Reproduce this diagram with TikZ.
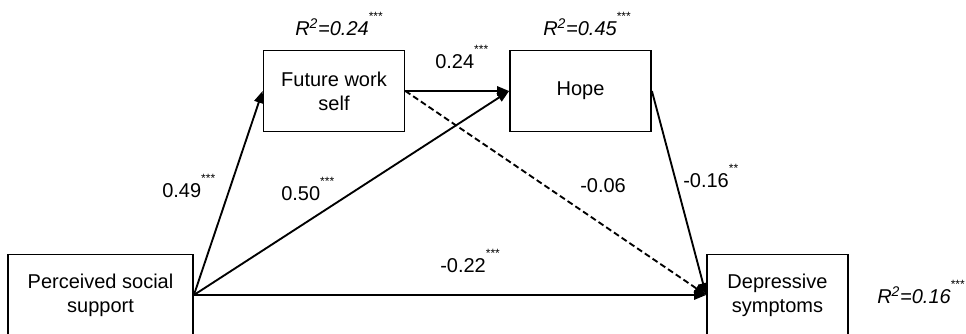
\documentclass[tikz,border=0pt]{standalone}
\usepackage{fontspec}
\setmainfont{Liberation Sans}
\usetikzlibrary{arrows.meta}

\newcommand{\sigstars}[1]{\raisebox{0.72em}{\fontsize{9}{9}\selectfont #1}}

\begin{document}
\begin{tikzpicture}[
  x=0.75pt, y=-0.75pt,
  box/.style={draw, line width=1.1pt, align=center, font=\fontsize{15}{18}\selectfont,
              minimum width=#1, minimum height=61pt, inner sep=0pt},
  box/.default=106pt,
  lab/.style={font=\fontsize{15}{18}\selectfont, anchor=base west, inner sep=0pt},
  rsq/.style={lab, font=\fontsize{15}{18}\selectfont\itshape},
  arr/.style={-{Triangle[length=9pt, width=7pt]}, line width=1.4pt},
  dsh/.style={arr, dash pattern=on 4.5pt off 2.5pt}
]
  \useasboundingbox (0,0) rectangle (966,333);

  % boxes
  \node[box=139pt] (pss) at (100.5,295) {Perceived social\\support};
  \node[box] (fws)  at (334,91)    {Future work\\self};
  \node[box] (hope) at (580.5,91)  {Hope};
  \node[box] (dep)  at (777.5,295) {Depressive\\symptoms};

  % explained variance
  \node[rsq] (rfws)  at (295,35)  {R\textsuperscript{2}=0.24\upshape\sigstars{***}};
  \node[rsq] (rhope) at (543,35)  {R\textsuperscript{2}=0.45\upshape\sigstars{***}};
  \node[rsq] (rdep)  at (877,303) {R\textsuperscript{2}=0.16\upshape\sigstars{***}};

  % paths
  \draw[arr] (pss.east) -- (fws.west);
  \draw[arr] (pss.east) -- (hope.west);
  \draw[arr] (pss.east) -- (dep.west);
  \draw[arr] (fws.east) -- (hope.west);
  \draw[dsh] (fws.east) -- (dep.west);
  \draw[arr] (hope.east) -- (dep.west);

  % coefficients
  \node[lab] (c49) at (162,197) {0.49\sigstars{***}};
  \node[lab] (c50) at (281,200) {0.50\sigstars{***}};
  \node[lab] (c24) at (435,68)  {0.24\sigstars{***}};
  \node[lab] (c06) at (580,192) {-0.06};
  \node[lab] (c16) at (683,187) {-0.16\sigstars{**}};
  \node[lab] (c22) at (440,272) {-0.22\sigstars{***}};
\end{tikzpicture}
\end{document}
